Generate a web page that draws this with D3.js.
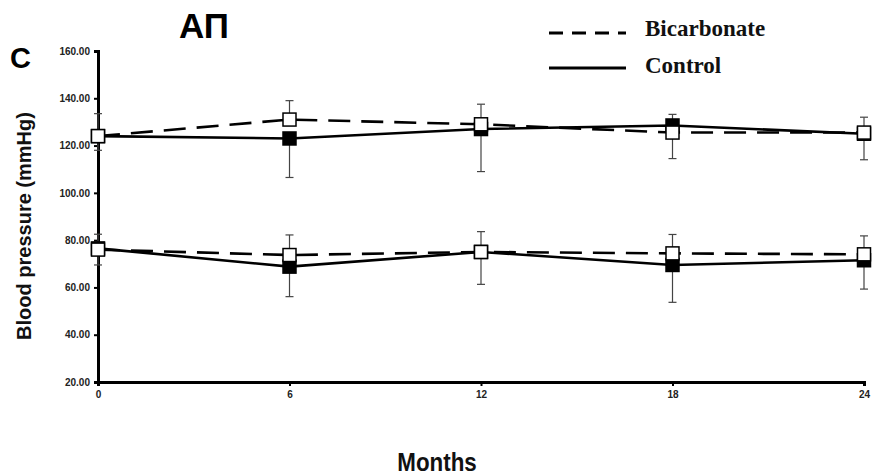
<!DOCTYPE html>
<html>
<head>
<meta charset="utf-8">
<script src="https://cdn.jsdelivr.net/npm/d3@7"></script>
<style>
  body { margin: 0; background: #fff; }
  svg { display: block; }
</style>
</head>
<body>
<svg id="chart" width="874" height="475"></svg>
<script>
// Follow-up months
const months = [0, 6, 12, 18, 24];
const yTicks = [20, 40, 60, 80, 100, 120, 140, 160];

// Systolic pressure (upper pair of lines)
const bicarbSys = [124, 131, 129, 125.5, 125.5];
const bicarbSysErr = [9.5, 8, 8.5, 7.7, 6.5];
const controlSys = [124, 123, 127, 128.5, 125];
const controlSysErr = [6, 16.5, 18, 14, 11];

// Diastolic pressure (lower pair of lines)
const bicarbDia = [76, 73.7, 75, 74.4, 74];
const bicarbDiaErr = [6.5, 8.5, 8.6, 8, 7.8];
const controlDia = [76.5, 68.8, 75, 69.5, 71.5];
const controlDiaErr = [7, 12.7, 13.7, 15.8, 12.2];

const svg = d3.select("#chart");
const plotLeft = 98, plotRight = 864, plotTop = 51, plotBottom = 382;

const x = d3.scaleLinear().domain([0, 24]).range([plotLeft, plotRight]);
const y = d3.scaleLinear().domain([20, 160]).range([plotBottom, plotTop]);

// Axes
const yAxis = d3.axisLeft(y).tickValues(yTicks).tickFormat(d3.format(".2f")).tickSize(4);
const xAxis = d3.axisBottom(x).tickValues(months).tickFormat(d3.format("d")).tickSize(4);

const gy = svg.append("g").attr("transform", `translate(${plotLeft},0)`).call(yAxis);
const gx = svg.append("g").attr("transform", `translate(0,${plotBottom})`).call(xAxis);

[gy, gx].forEach(g => {
  g.select(".domain").attr("stroke", "#000").attr("stroke-width", 3);
  g.selectAll(".tick line").attr("stroke", "#000").attr("stroke-width", 2);
  g.selectAll(".tick text")
    .attr("font-family", "'Liberation Sans', Arial, sans-serif")
    .attr("font-weight", "bold")
    .attr("font-size", 10)
    .attr("fill", "#222");
});
gy.selectAll(".tick text").attr("x", -8);
gx.selectAll(".tick text").attr("y", 9);

// Error bars: bicarbonate upward, control downward
function errorBars(vals, errs, dir) {
  const g = svg.append("g").attr("stroke", "#444").attr("stroke-width", 1.2);
  months.forEach((m, i) => {
    const y0 = y(vals[i]), y1 = y(vals[i] + dir * errs[i]);
    g.append("line").attr("x1", x(m)).attr("x2", x(m)).attr("y1", y0).attr("y2", y1);
    g.append("line").attr("x1", x(m) - 4).attr("x2", x(m) + 4).attr("y1", y1).attr("y2", y1);
  });
}
errorBars(bicarbSys, bicarbSysErr, 1);
errorBars(controlSys, controlSysErr, -1);
errorBars(bicarbDia, bicarbDiaErr, 1);
errorBars(controlDia, controlDiaErr, -1);

const line = d3.line().x((d, i) => x(months[i])).y(d => y(d));

function drawLine(vals, dashed) {
  svg.append("path")
    .datum(vals)
    .attr("fill", "none")
    .attr("stroke", "#000")
    .attr("stroke-width", 2.6)
    .attr("stroke-dasharray", dashed ? "22 11" : null)
    .attr("d", line);
}
drawLine(controlSys, false);
drawLine(controlDia, false);
drawLine(bicarbSys, true);
drawLine(bicarbDia, true);

function markers(vals, fill) {
  const s = 13;
  svg.append("g").selectAll("rect")
    .data(vals)
    .join("rect")
    .attr("x", (d, i) => x(months[i]) - s / 2)
    .attr("y", d => y(d) - s / 2)
    .attr("width", s)
    .attr("height", s)
    .attr("fill", fill)
    .attr("stroke", "#000")
    .attr("stroke-width", 1.5);
}
markers(controlSys, "#000");
markers(controlDia, "#000");
markers(bicarbSys, "#fff");
markers(bicarbDia, "#fff");

// Titles and axis labels
svg.append("text").attr("x", 179).attr("y", 38)
  .attr("font-family", "'Liberation Sans', Arial, sans-serif")
  .attr("font-weight", "bold").attr("font-size", 35).text("АП");

svg.append("text").attr("x", 10).attr("y", 68)
  .attr("font-family", "'Liberation Sans', Arial, sans-serif")
  .attr("font-weight", "bold").attr("font-size", 29).text("C");

svg.append("text")
  .attr("transform", "translate(31,226) rotate(-90)")
  .attr("text-anchor", "middle")
  .attr("font-family", "'Liberation Sans', Arial, sans-serif")
  .attr("font-weight", "bold").attr("font-size", 20).attr("fill", "#111")
  .text("Blood pressure (mmHg)");

svg.append("text")
  .attr("transform", "translate(437,471) scale(0.86,1)")
  .attr("text-anchor", "middle")
  .attr("font-family", "'Liberation Sans', Arial, sans-serif")
  .attr("font-weight", "bold").attr("font-size", 26).attr("fill", "#111")
  .text("Months");

// Legend
const legend = [
  { label: "Bicarbonate", dash: "14 9", y: 33, ty: 36 },
  { label: "Control", dash: null, y: 68, ty: 73 }
];
const lg = svg.append("g");
legend.forEach(d => {
  lg.append("line").attr("x1", 549).attr("x2", 626).attr("y1", d.y).attr("y2", d.y)
    .attr("stroke", "#000").attr("stroke-width", 2.8)
    .attr("stroke-dasharray", d.dash);
  lg.append("text").attr("x", 645).attr("y", d.ty)
    .attr("font-family", "'Liberation Serif', 'Times New Roman', serif")
    .attr("font-weight", "bold").attr("font-size", 23).attr("fill", "#111")
    .text(d.label);
});
</script>
</body>
</html>
